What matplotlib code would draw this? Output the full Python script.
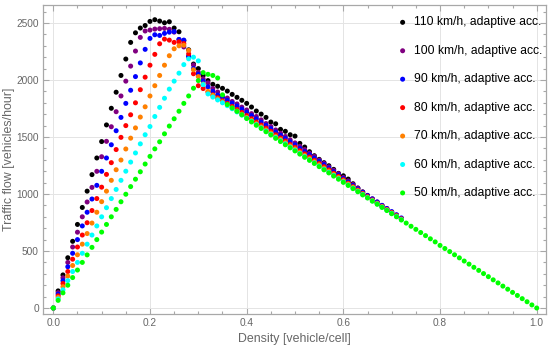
import matplotlib
matplotlib.use("Agg")
import matplotlib.pyplot as plt
from matplotlib.ticker import MultipleLocator

plt.rcParams['font.family'] = ['Liberation Sans', 'DejaVu Sans']

density = [0.00, 0.01, 0.02, 0.03, 0.04, 0.05, 0.06, 0.07, 0.08, 0.09,
           0.10, 0.11, 0.12, 0.13, 0.14, 0.15, 0.16, 0.17, 0.18, 0.19,
           0.20, 0.21, 0.22, 0.23, 0.24, 0.25, 0.26, 0.27, 0.28, 0.29,
           0.30, 0.31, 0.32, 0.33, 0.34, 0.35, 0.36, 0.37, 0.38, 0.39,
           0.40, 0.41, 0.42, 0.43, 0.44, 0.45, 0.46, 0.47, 0.48, 0.49,
           0.50, 0.51, 0.52, 0.53, 0.54, 0.55, 0.56, 0.57, 0.58, 0.59,
           0.60, 0.61, 0.62, 0.63, 0.64, 0.65, 0.66, 0.67, 0.68, 0.69,
           0.70, 0.71, 0.72, 0.73, 0.74, 0.75, 0.76, 0.77, 0.78, 0.79,
           0.80, 0.81, 0.82, 0.83, 0.84, 0.85, 0.86, 0.87, 0.88, 0.89,
           0.90, 0.91, 0.92, 0.93, 0.94, 0.95, 0.96, 0.97, 0.98, 0.99, 1.00]

flow_110 = [0, 150, 290, 441, 585, 733, 882, 1025, 1170, 1316,
            1460, 1606, 1752, 1893, 2040, 2184, 2330, 2414, 2456, 2478,
            2514, 2529, 2517, 2502, 2511, 2456, 2423, 2345, 2265, 2140,
            2100, 2040, 1995, 1962, 1945, 1927, 1903, 1874, 1848, 1822,
            1795, 1763, 1728, 1701, 1672, 1631, 1616, 1567, 1550, 1520,
            1508, 1444, 1412, 1371, 1336, 1304, 1275, 1248, 1216, 1181,
            1160, 1131, 1090, 1052, 1018, 985, 952, 922, 893, 864,
            835, 808, 780]

flow_100 = [0, 135, 265, 400, 535, 665, 800, 930, 1058, 1199,
            1327, 1462, 1590, 1722, 1860, 1990, 2122, 2254, 2374, 2430,
            2438, 2447, 2450, 2453, 2445, 2420, 2355, 2290, 2204, 2131,
            2067, 2010, 1975, 1925, 1895, 1862, 1842, 1812, 1790, 1762,
            1737, 1705, 1680, 1650, 1618, 1592, 1562, 1533, 1505, 1475,
            1448, 1418, 1390, 1358, 1330, 1298, 1268, 1238, 1208, 1178,
            1145, 1115, 1084, 1052, 1018, 988, 958, 930, 900, 872,
            843, 814, 785]

flow_90 = [0, 122, 240, 362, 480, 600, 720, 840, 956, 1076,
           1199, 1316, 1432, 1555, 1672, 1795, 1910, 2030, 2150, 2269,
           2365, 2397, 2391, 2409, 2420, 2425, 2356, 2350, 2210, 2100,
           2050, 1990, 1940, 1900, 1868, 1845, 1822, 1798, 1772, 1745,
           1718, 1688, 1660, 1630, 1602, 1574, 1544, 1515, 1488, 1458,
           1432, 1400, 1372, 1345, 1315, 1288, 1258, 1228, 1196, 1168,
           1136, 1105, 1075, 1045, 1015, 985, 957, 930, 900, 873,
           845, 818, 790]

flow_80 = [0, 107, 215, 320, 428, 535, 640, 748, 855, 960,
           1060, 1172, 1275, 1390, 1497, 1600, 1695, 1800, 1915, 2025,
           2130, 2225, 2318, 2359, 2350, 2330, 2335, 2320, 2230, 2055,
           1950, 1925, 1895, 1870, 1845, 1818, 1795, 1768, 1742, 1715,
           1688, 1660, 1632, 1605, 1578, 1550, 1520, 1492, 1465, 1435,
           1410, 1380, 1352, 1325, 1295, 1268, 1240, 1212, 1182, 1155,
           1125, 1095, 1065, 1035, 1005, 977, 948, 920, 892, 865,
           837, 810, 782]

flow_70 = [0, 93, 187, 280, 373, 467, 560, 653, 745, 840,
           933, 1025, 1120, 1213, 1298, 1395, 1490, 1580, 1675, 1765,
           1860, 1950, 2040, 2130, 2213, 2274, 2300, 2305, 2260, 2090,
           2030, 1965, 1900, 1865, 1835, 1808, 1782, 1755, 1728, 1700,
           1672, 1645, 1617, 1590, 1562, 1535, 1505, 1478, 1450, 1422,
           1396, 1366, 1338, 1311, 1283, 1256, 1227, 1200, 1172, 1145,
           1116, 1088, 1058, 1030, 1000, 973, 945, 918, 889, 862,
           834, 807, 779]

flow_60 = [0, 80, 160, 240, 320, 400, 480, 560, 640, 720,
           800, 880, 960, 1040, 1120, 1200, 1280, 1360, 1440, 1520,
           1592, 1680, 1760, 1840, 1920, 1990, 2060, 2135, 2186, 2200,
           2168, 1960, 1878, 1850, 1825, 1800, 1775, 1748, 1720, 1692,
           1665, 1637, 1608, 1580, 1552, 1524, 1495, 1467, 1440, 1411,
           1385, 1356, 1328, 1300, 1273, 1245, 1217, 1190, 1162, 1134,
           1107, 1079, 1051, 1023, 995, 968, 940, 913, 885, 858,
           830, 803, 775]

flow_50 = [0, 67, 133, 200, 267, 333, 400, 466, 532, 600,
           666, 733, 800, 865, 932, 998, 1065, 1130, 1195, 1263,
           1330, 1396, 1458, 1528, 1596, 1660, 1726, 1795, 1860, 1928,
           1995, 2065, 2050, 2040, 2018, 1870, 1785, 1755, 1725, 1695,
           1662, 1632, 1603, 1575, 1546, 1518, 1488, 1460, 1432, 1405,
           1378, 1350, 1322, 1295, 1268, 1240, 1212, 1185, 1157, 1130,
           1102, 1075, 1047, 1020, 992, 965, 937, 910, 882, 855,
           827, 800, 772, 745, 717, 690, 662, 635, 607, 580,
           549, 522, 495, 467, 440, 412, 385, 357, 330, 302,
           275, 247, 220, 192, 165, 137, 110, 82, 55, 27, 0]

labels = ["110 km/h, adaptive acc.", "100 km/h, adaptive acc.",
          "90 km/h, adaptive acc.", "80 km/h, adaptive acc.",
          "70 km/h, adaptive acc.", "60 km/h, adaptive acc.",
          "50 km/h, adaptive acc."]
series = [flow_110, flow_100, flow_90, flow_80, flow_70, flow_60, flow_50]
colors = ["#000000", "#800080", "#0000ff", "#ff0000", "#ff8000", "#00ffff", "#00ff00"]

x_label = "Density [vehicle/cell]"
y_label = "Traffic flow [vehicles/hour]"
x_ticks = [0.0, 0.2, 0.4, 0.6, 0.8, 1.0]
x_ticklabels = ["0.0", "0.2", "0.4", "0.6", "0.8", "1.0"]
y_ticks = [0, 500, 1000, 1500, 2000, 2500]

W, H = 550, 350
fig = plt.figure(figsize=(5.5, 3.5), dpi=100)
ax = fig.add_axes([43 / W, 1 - 314 / H, (546 - 43) / W, (314 - 5) / H])

frame_col = "#a8a8a8"
txt_col = "#666666"

for vals, col, lab in zip(series, colors, labels):
    ax.scatter(density[:len(vals)], vals, s=13, color=col, edgecolors='none',
               label=lab, zorder=3)

ax.set_xlim(-0.0213, 1.0192)
ax.set_ylim(-52.6, 2658)
ax.set_xticks(x_ticks)
ax.set_xticklabels(x_ticklabels)
ax.set_yticks(y_ticks)
ax.xaxis.set_minor_locator(MultipleLocator(0.05))
ax.yaxis.set_minor_locator(MultipleLocator(100))
ax.tick_params(which='both', direction='in', top=True, right=True,
               color=frame_col, labelcolor=txt_col, labelsize=7.3, width=0.8)
ax.tick_params(which='major', length=4.0, pad=3)
ax.tick_params(which='minor', length=2.2)
ax.grid(True, which='major', color='#e4e4e4', linewidth=0.7, zorder=0)
ax.set_axisbelow(True)
for sp in ax.spines.values():
    sp.set_color(frame_col)
    sp.set_linewidth(0.9)

ax.set_xlabel(x_label, color=txt_col, fontsize=8.9)
ax.set_ylabel(y_label, color=txt_col, fontsize=8.9)
ax.yaxis.set_label_coords((15 - 43) / 503, 0.5)
ax.xaxis.set_label_coords(0.5, (314 - 333) / 309)

leg = ax.legend(loc='upper left', bbox_to_anchor=(399 / W, 1 - 16.5 / H),
                bbox_transform=fig.transFigure, frameon=False, fontsize=8.7,
                handlelength=0.6, handletextpad=0.6, labelspacing=1.36,
                borderpad=0, borderaxespad=0, markerscale=1.0)

fig.savefig("out.png", dpi=100)
